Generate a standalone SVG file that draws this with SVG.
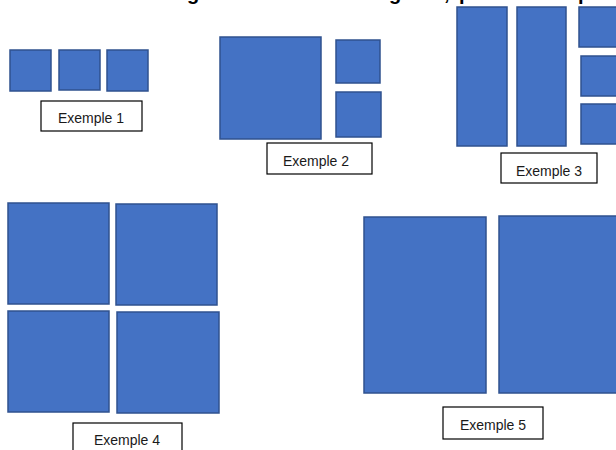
<svg xmlns="http://www.w3.org/2000/svg" width="616" height="450" viewBox="0 0 616 450">
<style>
.b{fill:#4472C4;stroke:#2F528F;stroke-width:1.5}
.lb{fill:#fff;stroke:#000;stroke-width:1.2}
.t{font-family:"Liberation Sans","Open Sans",sans-serif;font-size:14px;fill:#1a1a1a;text-anchor:middle}
.h{font-family:"Liberation Sans",sans-serif;font-size:20px;font-weight:bold;fill:#000}
</style>
<rect width="616" height="450" fill="#fff"/>
<g id="title">
<text class="h" x="187" y="0">g</text>
<text class="h" x="389" y="0">g</text>
<text class="h" x="444" y="0">,</text>
<text class="h" x="459" y="0">p</text>
<text class="h" x="578" y="0">p</text>
</g>
<g id="ex1">
<rect class="b" x="10" y="50" width="41" height="41"/>
<rect class="b" x="59" y="50" width="41" height="40"/>
<rect class="b" x="107" y="50" width="41" height="41"/>
<rect class="lb" x="41" y="101" width="101" height="30"/>
<text class="t" x="91" y="123">Exemple 1</text>
</g>
<g id="ex2">
<rect class="b" x="220" y="37" width="101" height="102"/>
<rect class="b" x="336" y="40" width="44" height="43"/>
<rect class="b" x="336" y="92" width="45" height="45"/>
<rect class="lb" x="267" y="143" width="105" height="31"/>
<text class="t" x="316" y="166">Exemple 2</text>
</g>
<g id="ex3">
<rect class="b" x="457" y="7" width="50" height="139"/>
<rect class="b" x="517" y="7" width="49" height="139"/>
<rect class="b" x="579" y="7" width="45" height="40"/>
<rect class="b" x="581" y="56" width="45" height="40"/>
<rect class="b" x="581" y="104" width="45" height="40"/>
<rect class="lb" x="501" y="153" width="96" height="30"/>
<text class="t" x="549" y="176">Exemple 3</text>
</g>
<g id="ex4">
<rect class="b" x="8" y="203" width="101" height="101"/>
<rect class="b" x="116" y="204" width="101" height="101"/>
<rect class="b" x="8" y="311" width="101" height="101"/>
<rect class="b" x="117" y="312" width="102" height="101"/>
<rect class="lb" x="73" y="423" width="109" height="40"/>
<text class="t" x="127" y="445">Exemple 4</text>
</g>
<g id="ex5">
<rect class="b" x="364" y="217" width="122" height="176"/>
<rect class="b" x="499" y="216" width="130" height="177"/>
<rect class="lb" x="443" y="407" width="100" height="32"/>
<text class="t" x="493" y="430">Exemple 5</text>
</g>
<g id="connectors"/>
</svg>
